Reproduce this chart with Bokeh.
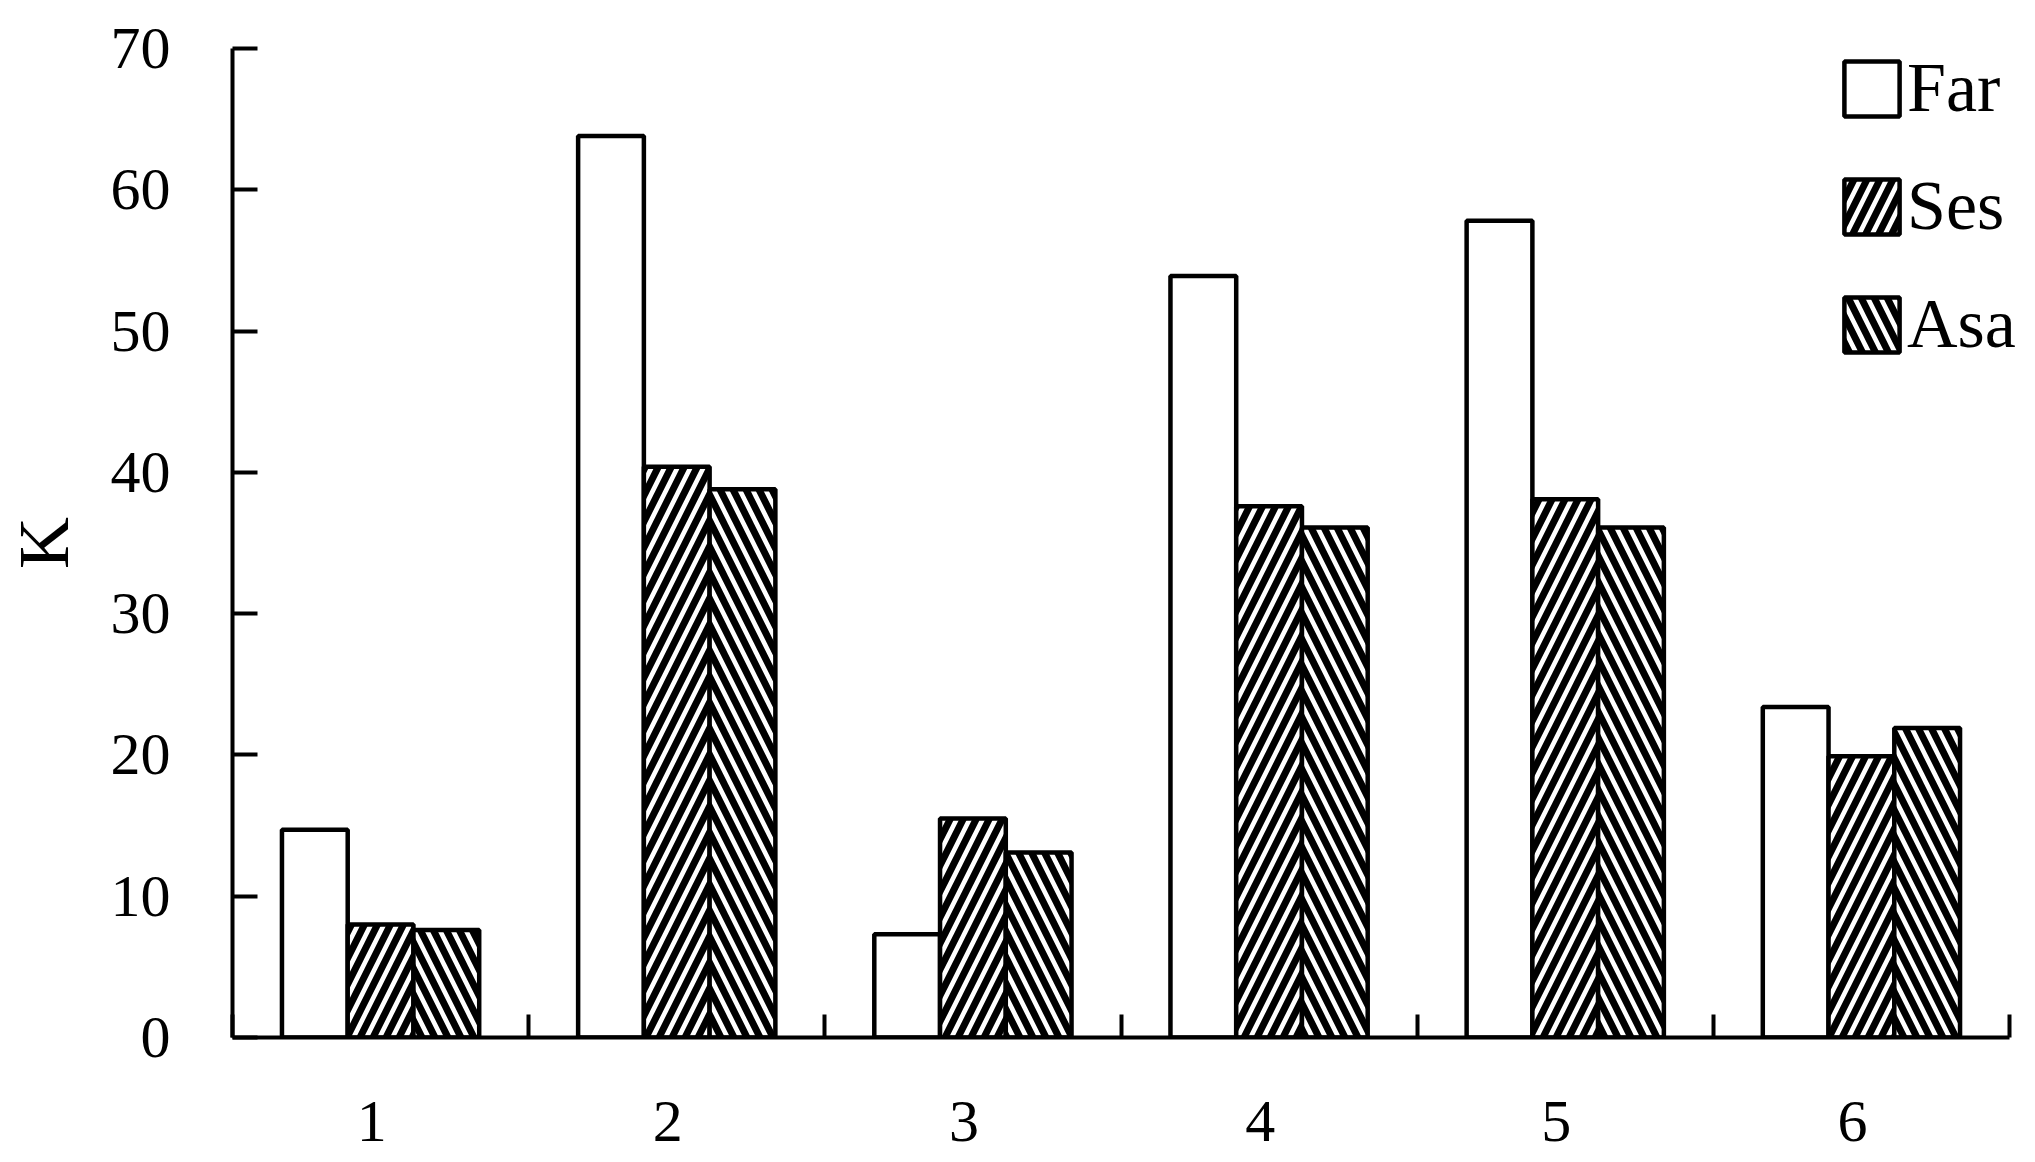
from bokeh.plotting import figure
from bokeh.models import ColumnDataSource, FixedTicker, Legend, LegendItem
from bokeh.transform import dodge
from bokeh.embed import file_html
from bokeh.resources import INLINE

# values
groups = [1, 2, 3, 4, 5, 6]
group_labels = ["1", "2", "3", "4", "5", "6"]
far = [14.7, 63.8, 7.3, 53.9, 57.8, 23.4]
ses = [8.0, 40.4, 15.5, 37.6, 38.1, 19.9]
asa = [7.6, 38.8, 13.1, 36.1, 36.1, 21.9]
y_ticks = [0, 10, 20, 30, 40, 50, 60, 70]

source = ColumnDataSource(data=dict(x=groups, far=far, ses=ses, asa=asa))

# the frame runs a little past the x axis so the legend text is not clipped
axis_w = 1777
extra_w = 24
x_end = 6.5 + extra_w * 6 / axis_w

p = figure(frame_width=axis_w + extra_w, frame_height=989, x_range=(0.5, x_end), y_range=(0, 70),
           min_border_left=200, min_border_top=48, min_border_right=2, min_border_bottom=118,
           output_backend="svg", toolbar_location=None)

bw = 0.222
common = dict(width=bw, line_color="black", line_width=4.5, source=source)

r_far = p.vbar(x=dodge("x", -bw, range=p.x_range), top="far", fill_color="white", **common)
r_ses = p.vbar(x=dodge("x", 0, range=p.x_range), top="ses", fill_color="white",
               hatch_pattern="right_diagonal_line", hatch_color="black",
               hatch_weight=7, hatch_scale=26, **common)
r_asa = p.vbar(x=dodge("x", bw, range=p.x_range), top="asa", fill_color="white",
               hatch_pattern="left_diagonal_line", hatch_color="black",
               hatch_weight=7, hatch_scale=26, **common)

legend = Legend(items=[LegendItem(label="Far", renderers=[r_far]),
                       LegendItem(label="Ses", renderers=[r_ses]),
                       LegendItem(label="Asa", renderers=[r_asa])],
                location=(1605, 673))
legend.glyph_width = 69
legend.glyph_height = 69
legend.spacing = 38
legend.padding = 0
legend.margin = 0
legend.label_standoff = 1
legend.border_line_color = None
legend.background_fill_alpha = 0
legend.label_text_font = "Liberation Serif"
legend.label_text_font_size = "70px"
legend.label_text_color = "black"
p.add_layout(legend, "center")

# axes
p.xgrid.grid_line_color = None
p.ygrid.grid_line_color = None
p.outline_line_color = None

# labels sit slightly left of the group centres, as in the original
label_ticks = [g - 0.03 for g in groups]
p.xaxis.bounds = (0.5, 6.5)
p.xaxis.ticker = FixedTicker(ticks=label_ticks, minor_ticks=[0.5, 1.5, 2.5, 3.5, 4.5, 5.5, 6.5])
p.xaxis.major_label_overrides = {t: l for t, l in zip(label_ticks, group_labels)}
p.xaxis.major_tick_in = 0
p.xaxis.major_tick_out = 0
p.xaxis.minor_tick_in = 23
p.xaxis.minor_tick_out = 0
p.xaxis.minor_tick_line_width = 4
p.xaxis.minor_tick_line_color = "black"
p.xaxis.major_label_standoff = 64

p.yaxis.ticker = FixedTicker(ticks=y_ticks)
p.yaxis.major_tick_in = 25
p.yaxis.major_tick_out = 0
p.yaxis.major_tick_line_width = 4
p.yaxis.minor_tick_line_color = None
p.yaxis.major_label_standoff = 62
p.yaxis.axis_label = "K"
p.yaxis.axis_label_standoff = 24
p.yaxis.axis_label_text_font = "Liberation Serif"
p.yaxis.axis_label_text_font_size = "72px"
p.yaxis.axis_label_text_font_style = "normal"
p.yaxis.axis_label_text_color = "black"

for ax in (p.xaxis, p.yaxis):
    ax.axis_line_width = 4
    ax.axis_line_color = "black"
    ax.major_tick_line_color = "black"
    ax.major_label_text_font = "Liberation Serif"
    ax.major_label_text_font_size = "60px"
    ax.major_label_text_color = "black"

open("out.html", "w").write(file_html(p, INLINE))
